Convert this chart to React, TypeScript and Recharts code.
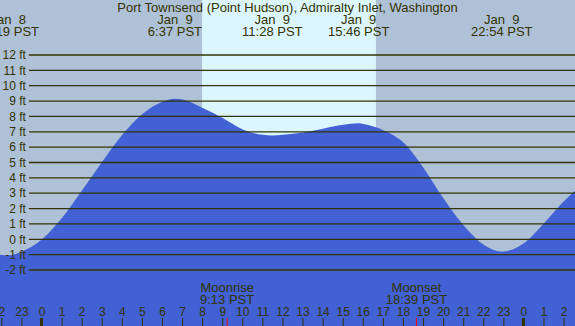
import React from 'react';
import { AreaChart, Area, XAxis, YAxis, ReferenceArea, ReferenceLine } from 'recharts';

const W = 575;
const H = 326;
const INK = '#333300';
const FONT = '"Liberation Sans", Arial, sans-serif';

// hours since midnight Jan 9 (negative = Jan 8)
const hours = [-2.1, -1.68, -1, 0, 1, 2, 3, 4, 5, 6, 6.62, 7, 8, 9, 10, 11, 11.47, 12, 13, 14, 15, 15.77, 16, 17, 18, 19, 20, 21, 22, 22.9, 24, 25, 26, 26.6];
const feet = [-1.0, -1.05, -0.8, 0.0, 1.4, 3.2, 5.05, 6.8, 8.15, 8.95, 9.15, 9.1, 8.55, 7.9, 7.15, 6.8, 6.75, 6.8, 6.95, 7.2, 7.45, 7.55, 7.5, 7.1, 6.3, 4.65, 2.65, 0.9, -0.35, -0.8, -0.25, 1.05, 2.5, 3.2];

const hourTicks = [-2, -1, 0, 1, 2, 3, 4, 5, 6, 7, 8, 9, 10, 11, 12, 13, 14, 15, 16, 17, 18, 19, 20, 21, 22, 23, 24, 25, 26];
const hourLabels = ['2', '23', '0', '1', '2', '3', '4', '5', '6', '7', '8', '9', '10', '11', '12', '13', '14', '15', '16', '17', '18', '19', '20', '21', '22', '23', '0', '1', '2'];
const levelTicks = [-2, -1, 0, 1, 2, 3, 4, 5, 6, 7, 8, 9, 10, 11, 12];

const tideTimes = [-1.68, 6.62, 11.47, 15.77, 22.9];
const tideDates = ['Jan  8', 'Jan  9', 'Jan  9', 'Jan  9', 'Jan  9'];
const tideClock = ['22:19 PST', '6:37 PST', '11:28 PST', '15:46 PST', '22:54 PST'];

const moonTimes = [9.22, 18.65];
const moonNames = ['Moonrise', 'Moonset'];
const moonClock = ['9:13 PST', '18:39 PST'];

const sunrise = 7.97;
const sunset = 16.63;

const X_MIN = -2.092;
const X_MAX = 26.544;
const Y_MIN = -5.645;
const Y_MAX = 15.58;
const LINE_START = -0.65;

const data = hours.map((h, i) => ({ h, ft: feet[i] }));

const hourLabel = (i: number) => (props: any) => {
  const x = props.viewBox?.x ?? 0;
  const label = hourLabels[i];
  return (
    <g>
      <text x={x} y={H - 10} textAnchor="middle" fontSize={12} fontFamily={FONT} fill={INK}>
        {label}
      </text>
      {label === '0' ? (
        <rect x={x - 2} y={H - 8} width={3} height={8} fill={INK} />
      ) : (
        <line x1={x} x2={x} y1={H - 8} y2={H} stroke={INK} strokeWidth={1} />
      )}
    </g>
  );
};

const tideLabel = (i: number) => (props: any) => {
  const x = props.viewBox?.x ?? 0;
  return (
    <g fontFamily={FONT} fontSize={13} fill={INK}>
      <text x={x} y={24} textAnchor="middle" xmlSpace="preserve">{tideDates[i]}</text>
      <text x={x} y={36} textAnchor="middle">{tideClock[i]}</text>
    </g>
  );
};

const moonLabel = (i: number) => (props: any) => {
  const x = props.viewBox?.x ?? 0;
  return (
    <g fontFamily={FONT} fontSize={13} fill={INK}>
      <text x={x} y={291.5} textAnchor="middle">{moonNames[i]}</text>
      <text x={x} y={304} textAnchor="middle">{moonClock[i]}</text>
      <line x1={x} x2={x} y1={H - 8} y2={H} stroke="#ff0000" strokeWidth={1} />
    </g>
  );
};

export default function App() {
  return (
    <div style={{ position: 'absolute', left: 0, top: 0, width: W, height: H, background: '#aec1d7' }}>
      <AreaChart width={W} height={H} data={data} margin={{ top: 0, right: 0, bottom: 0, left: 0 }}>
        <XAxis dataKey="h" type="number" domain={[X_MIN, X_MAX]} allowDataOverflow hide height={0} />
        <YAxis hide width={0} type="number" domain={[Y_MIN, Y_MAX]} allowDataOverflow />
        <ReferenceArea
          x1={sunrise}
          x2={sunset}
          y1={Y_MIN}
          y2={Y_MAX}
          fill="#dcf6ff"
          fillOpacity={1}
          stroke="none"
          zIndex={-50}
        />
        <Area
          type="monotone"
          dataKey="ft"
          stroke="none"
          fill="#4161d4"
          fillOpacity={1}
          baseValue={Y_MIN}
          isAnimationActive={false}
          dot={false}
          activeDot={false}
        />
        {levelTicks.map((v) => (
          <ReferenceLine
            key={v}
            segment={[{ x: LINE_START, y: v }, { x: X_MAX, y: v }]}
            stroke={INK}
            strokeWidth={1.3}
            ifOverflow="visible"
            zIndex={600}
            label={{ value: `${v} ft`, position: 'left', offset: 3, fill: INK, fontSize: 12, fontFamily: FONT }}
          />
        ))}
        {hourTicks.map((h, i) => (
          <ReferenceLine key={'h' + i} x={h} stroke="none" zIndex={600} label={hourLabel(i)} />
        ))}
        {tideTimes.map((t, i) => (
          <ReferenceLine key={'t' + i} x={t} stroke="none" zIndex={600} label={tideLabel(i)} />
        ))}
        {moonTimes.map((t, i) => (
          <ReferenceLine key={'m' + i} x={t} stroke="none" zIndex={600} label={moonLabel(i)} />
        ))}
        <text x={W / 2} y={12} textAnchor="middle" fontFamily={FONT} fontSize={13} fill={INK}>
          Port Townsend (Point Hudson), Admiralty Inlet, Washington
        </text>
      </AreaChart>
    </div>
  );
}
